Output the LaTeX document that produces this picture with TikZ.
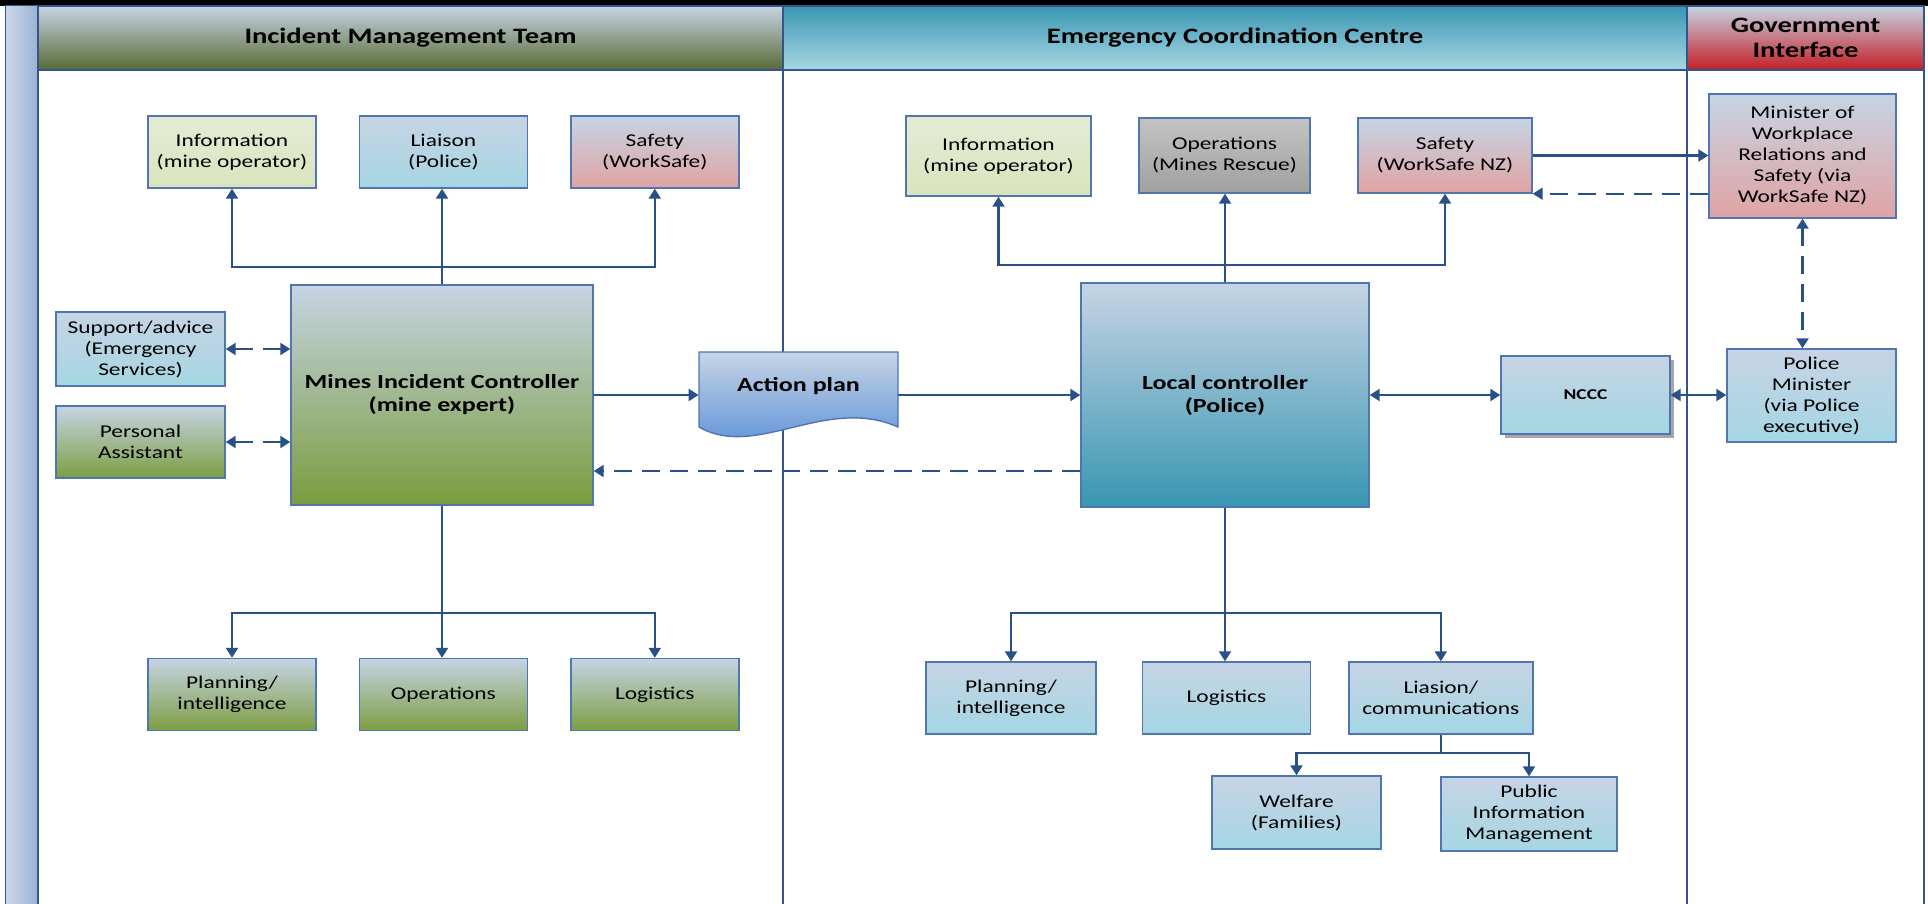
\documentclass[tikz,border=0pt]{standalone}
\usepackage{fontspec}
\setmainfont{Carlito}[FakeStretch=1.3]
\usetikzlibrary{positioning,arrows.meta,shadows}

\definecolor{steel}{RGB}{198,212,228}
\definecolor{cyanlow}{RGB}{165,214,227}
\definecolor{greenlow}{RGB}{124,158,66}
\definecolor{pinklow}{RGB}{224,163,163}
\definecolor{infotop}{RGB}{228,235,212}
\definecolor{infolow}{RGB}{217,228,190}
\definecolor{greytop}{RGB}{195,195,195}
\definecolor{greylow}{RGB}{160,160,160}
\definecolor{miclow}{RGB}{122,156,62}
\definecolor{lclow}{RGB}{56,150,178}
\definecolor{planlow}{RGB}{82,138,216}
\definecolor{imtlow}{RGB}{88,106,52}
\definecolor{ecctop}{RGB}{58,151,178}
\definecolor{ecclow}{RGB}{168,215,228}
\definecolor{govlow}{RGB}{196,30,38}
\definecolor{boxblue}{RGB}{79,118,176}
\definecolor{linkblue}{RGB}{41,80,135}
\definecolor{laneblue}{RGB}{50,85,140}
\definecolor{striplight}{RGB}{205,216,232}
\definecolor{stripdark}{RGB}{155,178,212}

\begin{document}
\begin{tikzpicture}[
    x=0.5pt, y=-0.5pt,
    node distance=21pt,
    box/.style={rectangle, draw=boxblue, line width=0.7pt, align=center, inner sep=1pt, font=\fontsize{9}{10.5}\selectfont},
    cell/.style={minimum width=84pt, minimum height=36pt},
    cyanbox/.style={box, top color=steel, bottom color=cyanlow},
    greenbox/.style={box, top color=steel, bottom color=greenlow},
    pinkbox/.style={box, top color=steel, bottom color=pinklow},
    infobox/.style={box, top color=infotop, bottom color=infolow},
    greybox/.style={box, top color=greytop, bottom color=greylow},
    boss/.style={box, font=\bfseries\fontsize{10}{11.5}\selectfont},
    head/.style={rectangle, draw=laneblue, line width=0.8pt, align=center, minimum height=32pt, inner sep=0pt, font=\bfseries\fontsize{11}{12.5}\selectfont},
    lane/.style={draw=laneblue, line width=0.9pt},
    arrow/.style={-{Triangle[length=5pt,width=6pt]}, draw=linkblue, line width=1.1pt},
    twoway/.style={{Triangle[length=5pt,width=6pt]}-{Triangle[length=5pt,width=6pt]}, draw=linkblue, line width=1.1pt},
    dasharrow/.style={arrow, dash pattern=on 9pt off 5pt},
    twodash/.style={twoway, dash pattern=on 9pt off 5pt}
]
\useasboundingbox (0,0) rectangle (1928,904);

% Lanes
\fill[black] (0,0) rectangle (1928,6);
\shade[left color=striplight, right color=stripdark, draw=laneblue, line width=0.5pt] (5,6) rectangle (38,910);
\draw[lane] (38,70) rectangle (783,910);
\draw[lane] (783,70) rectangle (1687,910);
\draw[lane] (1687,70) rectangle (1924,910);
\node[head, top color=steel, bottom color=imtlow, minimum width=372.5pt] (imthead) at (410.5,38) {Incident Management Team};
\node[head, top color=ecctop, bottom color=ecclow, minimum width=452pt] (ecchead) at (1235,38) {Emergency Coordination Centre};
\node[head, top color=steel, bottom color=govlow, minimum width=118.5pt] (govhead) at (1805.5,38) {Government\\Interface};

% Action plan sheet
\shade[top color=steel, bottom color=planlow, draw=boxblue, line width=0.7pt] (699,352) -- (898,352) -- (898,427) .. controls (826,395) and (756,460) .. (699,427) -- cycle;

% Nodes - Incident Management Team
\node[infobox, cell] (imtinfo) at (232,152) {Information\\(mine operator)};
\node[cyanbox, cell, right=of imtinfo] (imtliaison) {Liaison\\(Police)};
\node[pinkbox, cell, right=of imtliaison] (imtsafety) {Safety\\(WorkSafe)};
\node[boss, top color=steel, bottom color=miclow, minimum width=151pt, minimum height=110pt] (mic) at (442,395) {Mines Incident Controller\\(mine expert)};
\node[cyanbox, cell, minimum width=84.5pt, minimum height=37pt] (support) at (140.5,349) {Support/advice\\(Emergency\\Services)};
\node[greenbox, cell, minimum width=84.5pt] (assistant) at (140.5,442) {Personal\\Assistant};
\node[greenbox, cell] (imtplan) at (232,694.5) {Planning/\\intelligence};
\node[greenbox, cell, right=of imtplan] (imtops) {Operations};
\node[greenbox, cell, right=of imtops] (imtlog) {Logistics};
\node[font=\bfseries\fontsize{10}{11.5}\selectfont, minimum width=99.5pt, minimum height=37.5pt, inner sep=0pt] (actionplan) at (798.5,386) {Action plan};

% Nodes - Emergency Coordination Centre
\node[infobox, minimum width=92.5pt, minimum height=40pt] (eccinfo) at (998.5,156) {Information\\(mine operator)};
\node[greybox, minimum width=85.5pt, minimum height=37.5pt] (eccops) at (1224.5,155.5) {Operations\\(Mines Rescue)};
\node[pinkbox, minimum width=87pt, minimum height=37.5pt] (eccsafety) at (1445,155.5) {Safety\\(WorkSafe NZ)};
\node[boss, top color=steel, bottom color=lclow, minimum width=144pt, minimum height=112pt] (lc) at (1225,395) {Local controller\\(Police)};
\node[cyanbox, minimum width=84.5pt, minimum height=39pt, font=\bfseries\fontsize{7.5}{9}\selectfont,
      drop shadow={shadow xshift=2pt, shadow yshift=-2pt, fill=black, opacity=0.35}] (nccc) at (1585.5,395) {NCCC};
\node[cyanbox, cell, minimum width=85pt] (eccplan) at (1011,698) {Planning/\\intelligence};
\node[cyanbox, cell, right=22.5pt of eccplan] (ecclog) {Logistics};
\node[cyanbox, cell, minimum width=92pt, right=18.5pt of ecclog] (eccliaison) {Liasion/\\communications};
\node[cyanbox, cell, minimum width=84.5pt, minimum height=36.5pt] (welfare) at (1296.5,812.5) {Welfare\\(Families)};
\node[cyanbox, minimum width=88pt, minimum height=37pt] (pim) at (1529,814) {Public\\Information\\Management};

% Nodes - Government Interface
\node[pinkbox, minimum width=93.5pt, minimum height=62pt] (minister) at (1802.5,156) {Minister of\\Workplace\\Relations and\\Safety (via\\WorkSafe NZ)};
\node[cyanbox, minimum width=84.5pt, minimum height=46.5pt] (policemin) at (1811.5,395.5) {Police\\Minister\\(via Police\\executive)};

% Arrows - Incident Management Team
\coordinate (imtup) at (442,267);
\coordinate (imtdown) at (442,613);
\draw[arrow] (mic.north) -- (imtup) -| (imtinfo.south);
\draw[arrow] (imtup) -| (imtsafety.south);
\draw[arrow] (mic.north) -- (mic.north |- imtliaison.south);
\draw[arrow] (mic.south) -- (imtdown) -| (imtplan.north);
\draw[arrow] (imtdown) -| (imtlog.north);
\draw[arrow] (mic.south) -- (mic.south |- imtops.north);
\draw[twodash] (support.east) -- (support.east -| mic.west);
\draw[twodash] (assistant.east) -- (assistant.east -| mic.west);
\draw[arrow] (mic.east) -- (mic.east -| actionplan.west);
\draw[arrow] (actionplan.east |- lc.west) -- (lc.west);
\draw[dasharrow] ([yshift=-38pt]lc.west) -- ([yshift=-38pt]lc.west -| mic.east);

% Arrows - Emergency Coordination Centre
\coordinate (eccup) at (1225,265);
\coordinate (eccdown) at (1225,613);
\draw[arrow] (lc.north) -- (eccup) -| (eccinfo.south);
\draw[arrow] (eccup) -| (eccsafety.south);
\draw[arrow] (lc.north) -- (lc.north |- eccops.south);
\draw[arrow] (lc.south) -- (eccdown) -| (eccplan.north);
\draw[arrow] (eccdown) -| (eccliaison.north);
\draw[arrow] (lc.south) -- (lc.south |- ecclog.north);
\draw[arrow] (eccliaison.south) -- ++(0,18) coordinate (liaisondown) -| (welfare.north);
\draw[arrow] (liaisondown) -| (pim.north);
\draw[twoway] (lc.east) -- (nccc.west);

% Arrows - Government Interface
\draw[twoway] (nccc.east) -- (nccc.east -| policemin.west);
\draw[arrow] (eccsafety.east) -- (eccsafety.east -| minister.west);
\draw[dasharrow] (minister.west |- eccsafety.south east) -- (eccsafety.south east);
\draw[twodash] (minister.south) -- (minister.south |- policemin.north);

\end{tikzpicture}
\end{document}
